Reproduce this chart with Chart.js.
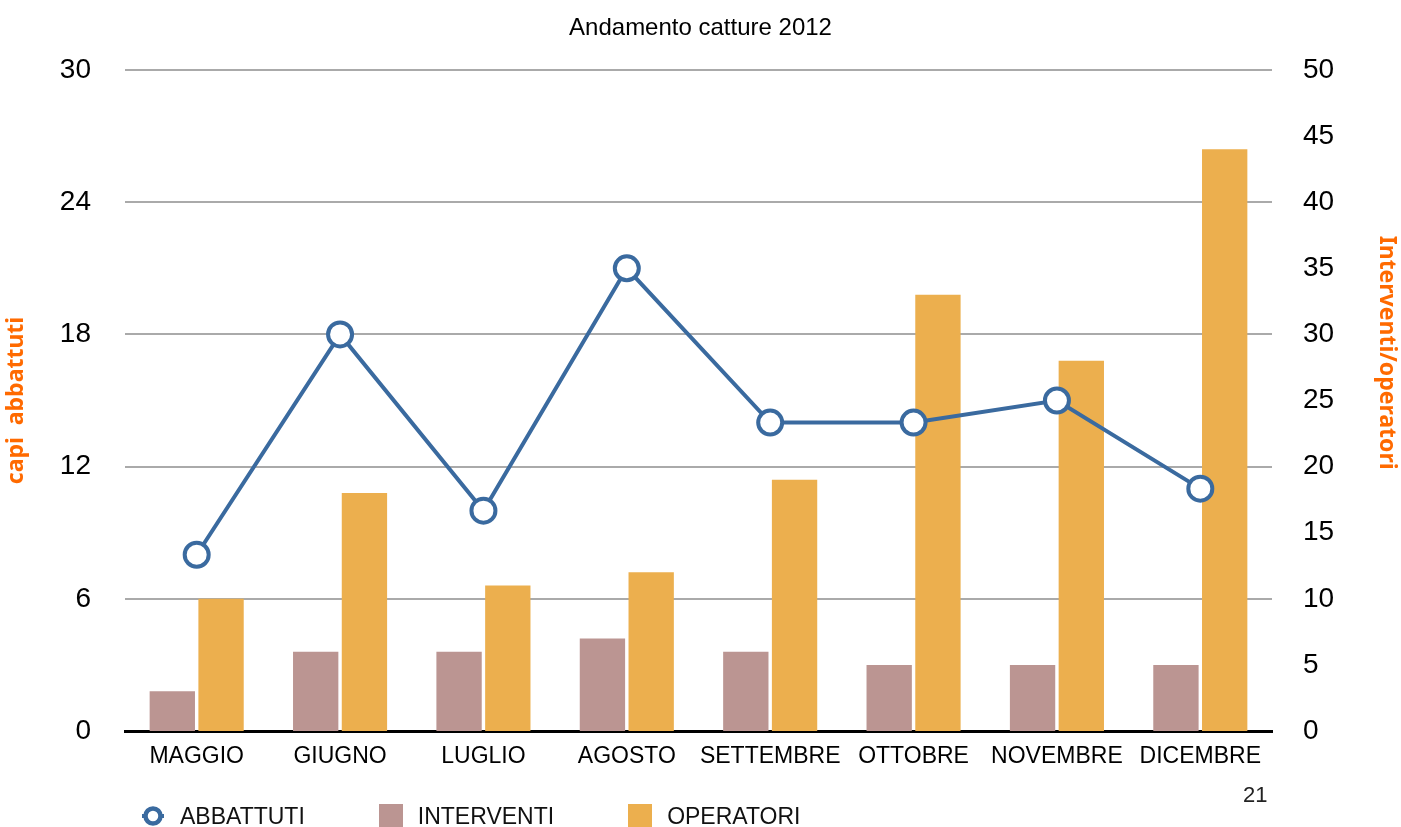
<!DOCTYPE html>
<html>
<head>
<meta charset="utf-8">
<script src="https://cdn.jsdelivr.net/npm/chart.js@4/dist/chart.umd.min.js"></script>
<style>
  html, body { margin: 0; padding: 0; background: #fff; overflow: hidden; }
  #wrap { position: relative; width: 1401px; height: 827px; }
  #legend { position: absolute; left: 141px; top: 804px; height: 24px; display: flex; align-items: center;
            font: 23px "Liberation Sans", Arial, sans-serif; color: #111; }
  .item { display: flex; align-items: center; margin-right: 74px; white-space: nowrap; }
  .item .sw { width: 24px; height: 24px; margin-right: 15px; }
  #pagenum { position: absolute; left: 1243px; top: 782px; font: 22px "Liberation Sans", Arial, sans-serif; color: #222; }
</style>
</head>
<body>
<div id="wrap">
  <canvas id="myChart" width="1401" height="827"></canvas>
  <div id="legend"></div>
  <div id="pagenum">21</div>
</div>
<script>
const months = ['MAGGIO', 'GIUGNO', 'LUGLIO', 'AGOSTO', 'SETTEMBRE', 'OTTOBRE', 'NOVEMBRE', 'DICEMBRE'];
const abbattuti = [8, 18, 10, 21, 14, 14, 15, 11];
const interventi = [3, 6, 6, 7, 6, 5, 5, 5];
const operatori = [10, 18, 11, 12, 19, 33, 28, 44];

const blue = '#3a6a9f';
const rose = '#bb9592';
const gold = '#ecaf4e';
const orange = '#ff6a00';

Chart.defaults.font.family = '"Liberation Sans", Arial, sans-serif';
Chart.defaults.color = '#000';

const ctx = document.getElementById('myChart').getContext('2d');
const myChart = new Chart(ctx, {
    type: 'bar',
    data: {
        labels: months,
        datasets: [{
            type: 'line',
            label: 'ABBATTUTI',
            data: abbattuti,
            yAxisID: 'y',
            order: 0,
            borderColor: blue,
            borderWidth: 4,
            tension: 0,
            pointRadius: 12,
            pointBorderWidth: 4,
            pointBackgroundColor: '#fff',
            pointBorderColor: blue
        }, {
            label: 'INTERVENTI',
            data: interventi,
            yAxisID: 'y1',
            order: 1,
            backgroundColor: rose,
            categoryPercentage: 0.68,
            barPercentage: 0.93
        }, {
            label: 'OPERATORI',
            data: operatori,
            yAxisID: 'y1',
            order: 1,
            backgroundColor: gold,
            categoryPercentage: 0.68,
            barPercentage: 0.93
        }]
    },
    options: {
        responsive: false,
        animation: false,
        layout: { padding: { left: 0, right: 0, top: 0, bottom: 56 } },
        plugins: {
            legend: { display: false },
            tooltip: { enabled: false },
            title: {
                display: true,
                text: 'Andamento catture 2012',
                color: '#000',
                font: { size: 24, weight: 'normal' },
                padding: { top: 14, bottom: 27.2 }
            }
        },
        scales: {
            x: {
                grid: { display: false, drawTicks: false },
                border: { display: true, color: '#000', width: 3 },
                ticks: { font: { size: 23 }, padding: 12, color: '#000', maxRotation: 0, autoSkip: false },
                afterFit: s => { s.height = 40; }
            },
            y: {
                position: 'left',
                min: 0,
                max: 30,
                ticks: { stepSize: 6, font: { size: 28 }, padding: 34, color: '#000' },
                grid: { color: '#aaaaaa', lineWidth: 2, drawTicks: false },
                border: { display: false },
                title: {
                    display: true,
                    text: 'capi  abbattuti',
                    color: orange,
                    font: { family: '"Noto Sans", sans-serif', size: 23, weight: 'bold' },
                    padding: { top: 3, bottom: 0 }
                },
                afterFit: s => { s.width = 125; }
            },
            y1: {
                position: 'right',
                min: 0,
                max: 50,
                ticks: { stepSize: 5, font: { size: 28 }, padding: 31, color: '#000' },
                grid: { display: false, drawTicks: false },
                border: { display: false },
                title: {
                    display: true,
                    text: 'Interventi/operatori' + '\u00A0'.repeat(16),
                    color: orange,
                    font: { family: '"Noto Sans", sans-serif', size: 23, weight: 'bold' },
                    padding: { top: 1, bottom: 0 }
                },
                afterFit: s => { s.width = 129; }
            }
        }
    }
});

// html legend built from the datasets
const legendEl = document.getElementById('legend');
myChart.data.datasets.forEach(ds => {
    const item = document.createElement('div');
    item.className = 'item';
    let sw;
    if (ds.type === 'line') {
        sw = '<svg class="sw" viewBox="0 0 24 24"><line x1="1" y1="12" x2="23" y2="12" stroke="' + ds.borderColor +
             '" stroke-width="4"/><circle cx="12" cy="12" r="7.5" fill="#fff" stroke="' + ds.borderColor + '" stroke-width="4.5"/></svg>';
    } else {
        sw = '<span class="sw" style="background:' + ds.backgroundColor + '"></span>';
    }
    item.innerHTML = sw + '<span>' + ds.label + '</span>';
    legendEl.appendChild(item);
});
</script>
</body>
</html>
